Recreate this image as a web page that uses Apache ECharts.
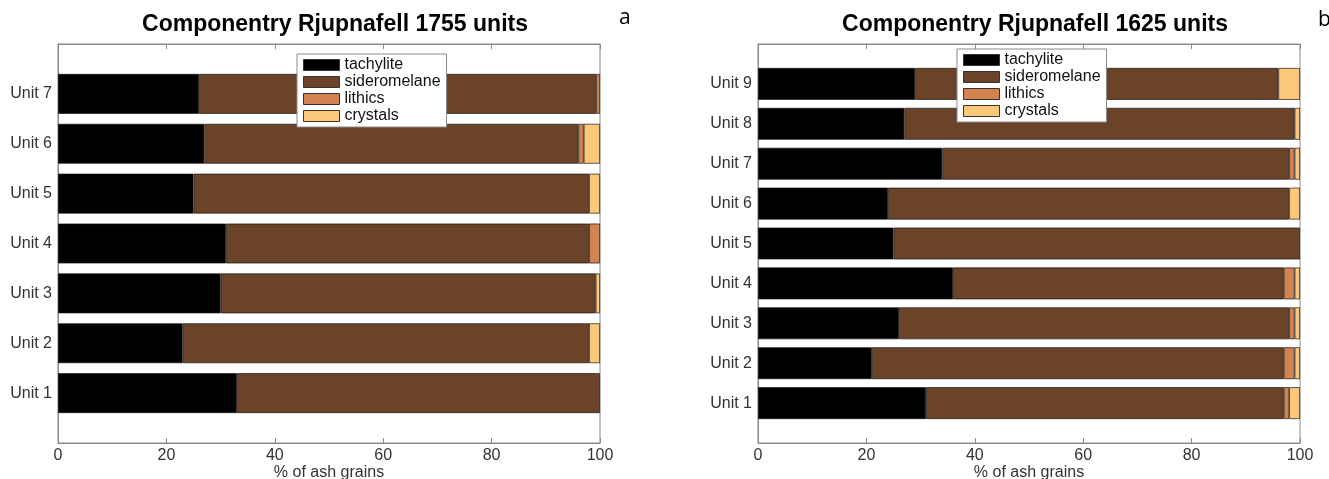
<!DOCTYPE html>
<html>
<head>
<meta charset="utf-8">
<script src="https://cdn.jsdelivr.net/npm/echarts@6/dist/echarts.min.js"></script>
<style>
html,body{margin:0;padding:0;background:#fff;}
#chart{width:1329px;height:479px;}
</style>
</head>
<body>
<div id="chart"></div>
<script>
// ---- Data ----
const componentNames = ['tachylite', 'sideromelane', 'lithics', 'crystals'];
const unitsA = ['Unit 1', 'Unit 2', 'Unit 3', 'Unit 4', 'Unit 5', 'Unit 6', 'Unit 7'];
const tachA = [33, 23, 30, 31, 25, 27, 26];
const sideA = [67, 75, 69.2, 67, 73, 69, 73.3];
const lithA = [0, 0, 0, 2, 0, 1, 0.7];
const crysA = [0, 2, 0.8, 0, 2, 3, 0];

const unitsB = ['Unit 1', 'Unit 2', 'Unit 3', 'Unit 4', 'Unit 5', 'Unit 6', 'Unit 7', 'Unit 8', 'Unit 9'];
const tachB = [31, 21, 26, 36, 25, 24, 34, 27, 29];
const sideB = [66, 76, 72, 61, 75, 74, 64, 72, 67];
const lithB = [1, 2, 1, 2, 0, 0, 1, 0, 0];
const crysB = [2, 1, 1, 1, 0, 2, 1, 1, 4];

const xTicks = [0, 20, 40, 60, 80, 100];
const titleA = 'Componentry Rjupnafell 1755 units';
const titleB = 'Componentry Rjupnafell 1625 units';
const xName = '% of ash grains';

// ---- Styling ----
const colors = ['#000000', '#6b4329', '#d3834f', '#fcc87a'];
const FONT = 'Liberation Sans';
const axisGray = '#8a8a8a';
const textCol = '#333333';

function pad(arr) { return [null].concat(arr.map(v => v === 0 ? null : v), [null]); }
function padCats(arr) { return [''].concat(arr, ['']); }

const chart = echarts.init(document.getElementById('chart'), null, {renderer: 'canvas'});

const grids = [
  {left: 58, top: 44, width: 542, height: 399, show: true, borderColor: axisGray, borderWidth: 1, backgroundColor: '#fff', containLabel: false, outerBoundsMode: 'none'},
  {left: 758, top: 44, width: 542, height: 399, show: true, borderColor: axisGray, borderWidth: 1, backgroundColor: '#fff', containLabel: false, outerBoundsMode: 'none'}
];

function xAxes(gi) {
  return [
    {
      type: 'value', gridIndex: gi, min: xTicks[0], max: xTicks[xTicks.length - 1], interval: xTicks[1] - xTicks[0],
      position: 'bottom',
      name: xName, nameLocation: 'middle', nameGap: 22, nameMoveOverlap: false,
      nameTextStyle: {fontFamily: FONT, fontSize: 16, color: textCol},
      axisLine: {show: true, lineStyle: {color: axisGray}},
      axisTick: {show: true, inside: true, length: 5, lineStyle: {color: axisGray}},
      axisLabel: {fontFamily: FONT, fontSize: 16, color: textCol, margin: 5},
      splitLine: {show: false}
    },
    {
      type: 'value', gridIndex: gi, min: xTicks[0], max: xTicks[xTicks.length - 1], interval: xTicks[1] - xTicks[0],
      position: 'top',
      axisLine: {show: true, lineStyle: {color: axisGray}},
      axisTick: {show: true, inside: true, length: 5, lineStyle: {color: axisGray}},
      axisLabel: {show: false},
      splitLine: {show: false}
    }
  ];
}

function yAxis(gi, cats) {
  return {
    type: 'category', gridIndex: gi, data: padCats(cats), boundaryGap: false,
    axisLine: {show: true, lineStyle: {color: axisGray}},
    axisTick: {show: false},
    axisLabel: {interval: 0, fontFamily: FONT, fontSize: 16, color: textCol, margin: 6},
    splitLine: {show: false}
  };
}

function makeSeries(gi, stackName, dataArrs) {
  return dataArrs.map((arr, i) => ({
    name: componentNames[i],
    type: 'bar',
    xAxisIndex: gi * 2,
    yAxisIndex: gi,
    stack: stackName,
    barWidth: '80%',
    data: pad(arr),
    itemStyle: {color: colors[i], borderColor: 'rgba(20,20,20,0.85)', borderWidth: 0.8},
    emphasis: {disabled: true},
    silent: true
  }));
}

function legend(left, top) {
  return {
    show: true, orient: 'vertical', left: left, top: top,
    data: componentNames,
    icon: 'rect', itemWidth: 36, itemHeight: 11, itemGap: 1, itemTextGap: 3,
    padding: [3, 6, 3, 6],
    backgroundColor: '#fff', borderColor: '#8a8a8a', borderWidth: 1, borderRadius: 0,
    selectedMode: false,
    itemStyle: {borderColor: '#333', borderWidth: 1},
    textStyle: {fontFamily: FONT, fontSize: 16, lineHeight: 15, color: '#111'}
  };
}

const option = {
  animation: false,
  backgroundColor: '#fff',
  title: [
    {text: titleA, left: 330, top: 8, textAlign: 'center', textStyle: {fontFamily: FONT, fontSize: 23, fontWeight: 'bold', color: '#000'}},
    {text: titleB, left: 1030, top: 8, textAlign: 'center', textStyle: {fontFamily: FONT, fontSize: 23, fontWeight: 'bold', color: '#000'}}
  ],
  graphic: [
    {type: 'text', left: 619, top: 8, style: {text: 'a', font: '21px "Open Sans"', fill: '#000'}},
    {type: 'text', left: 1318, top: 10, style: {text: 'b', font: '21px "Open Sans"', fill: '#000'}}
  ],
  legend: [legend(297, 54), legend(957, 49)],
  grid: grids,
  xAxis: xAxes(0).concat(xAxes(1)),
  yAxis: [yAxis(0, unitsA), yAxis(1, unitsB)],
  series: makeSeries(0, 'a', [tachA, sideA, lithA, crysA]).concat(makeSeries(1, 'b', [tachB, sideB, lithB, crysB]))
};

option.series.forEach((s, idx) => { if (idx >= 4) s.xAxisIndex = 2; });

chart.setOption(option);
</script>
</body>
</html>
